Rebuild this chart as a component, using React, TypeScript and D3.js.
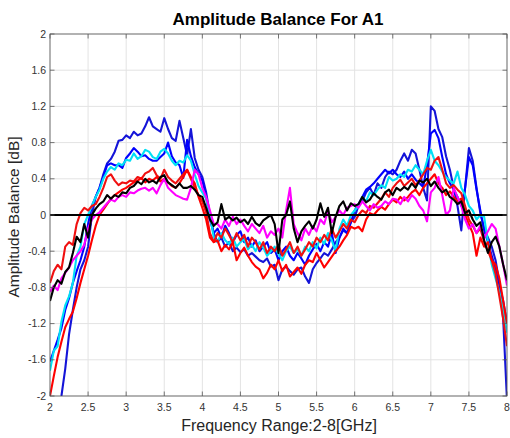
import React from "react";
import * as d3 from "d3";

const TITLE = "Amplitude Balance For A1";
const X_LABEL = "Frequency Range:2-8[GHz]";
const Y_LABEL = "Amplitude Balance [dB]";

const X_TICKS = [2, 2.5, 3, 3.5, 4, 4.5, 5, 5.5, 6, 6.5, 7, 7.5, 8];
const Y_TICKS = [-2, -1.6, -1.2, -0.8, -0.4, 0, 0.4, 0.8, 1.2, 1.6, 2];
const Y_TICK_LABELS = ["-2", "-1.6", "-1.2", "-0.8", "-0.4", "0", "0.4", "0.8", "1.2", "1.6", "2"];

// frequency samples (GHz), 2.0 .. 8.0 every 0.05
const FREQ_START = 2;
const FREQ_STEP = 0.05;

const blueA = [
  -2.8, -2.5, -2.2, -2.0, -1.7, -1.32, -1.05, -0.8, -0.6, -0.5,
  -0.35, 0.0, 0.2, 0.3, 0.45, 0.57, 0.62, 0.7, 0.82, 0.83,
  0.88, 0.85, 0.92, 0.88, 0.9, 0.98, 1.08, 0.98, 0.95, 0.92,
  1.07, 0.95, 0.85, 0.82, 1.04, 0.85, 0.66, 0.95, 0.63, 0.5,
  0.42, 0.25, 0.0, -0.2, -0.3, -0.25, -0.35, -0.3, -0.4, -0.36,
  -0.41, -0.38, -0.45, -0.42, -0.46, -0.5, -0.52, -0.48, -0.57, -0.55,
  -0.72, -0.6, -0.57, -0.62, -0.66, -0.6, -0.58, -0.68, -0.75, -0.6,
  -0.53, -0.48, -0.42, -0.45, -0.38, -0.3, -0.25, -0.17, -0.2, -0.08,
  -0.02, 0.1, 0.15, 0.25, 0.3, 0.22, 0.35, 0.3, 0.42, 0.48,
  0.45, 0.5, 0.6, 0.68, 0.6, 0.72, 0.68, 0.5, 0.3, 0.16,
  1.2, 1.15, 0.95, 0.86, 0.65, 0.5, 0.3, 0.1, -0.17, 0.3,
  0.74, 0.6, 0.3, 0.02, -0.15, -0.25, -0.35, -0.5, -0.75, -1.15,
  -2.05,
];

const blueB = [
  -1.62, -1.5, -1.38, -1.25, -1.05, -0.92, -0.75, -0.62, -0.5, -0.35,
  -0.1, 0.1, 0.2, 0.3, 0.42, 0.55, 0.57, 0.55, 0.55, 0.52,
  0.63, 0.68, 0.74, 0.7, 0.65, 0.66, 0.62, 0.6, 0.6, 0.64,
  0.68, 0.8, 0.65, 0.58, 0.55, 0.41, 0.83, 0.65, 0.53, 0.45,
  0.38, 0.2, -0.05, -0.2, -0.15, -0.25, -0.12, -0.2, -0.3, -0.22,
  -0.18, -0.3, -0.25, -0.35, -0.28, -0.4, -0.35, -0.3, -0.42, -0.38,
  -0.5, -0.4, -0.35, -0.45, -0.5, -0.42, -0.48, -0.55, -0.45, -0.38,
  -0.32, -0.4, -0.3, -0.35, -0.2, -0.42, -0.25, -0.15, -0.2, -0.08,
  0.05, 0.12, 0.2, 0.28, 0.31, 0.35, 0.4, 0.45, 0.5, 0.46,
  0.5, 0.45, 0.42, 0.48, 0.4, 0.45, 0.39, 0.35, 0.31, 0.55,
  0.9, 0.94, 0.85, 0.64, 0.45, 0.35, 0.28, 0.2, 0.1, 0.3,
  0.64, 0.55, 0.28, 0.05, -0.17, -0.3, -0.45, -0.6, -0.78, -0.95,
  -1.2,
];

const cyan = [
  -1.72, -1.5, -1.45, -1.18, -1.0, -0.9, -0.75, -0.45, -0.35, -0.1,
  0.0, 0.1, 0.2, 0.28, 0.4, 0.48, 0.53, 0.5, 0.57, 0.55,
  0.61, 0.6, 0.68, 0.62, 0.65, 0.72, 0.7, 0.64, 0.62, 0.7,
  0.73, 0.68, 0.6, 0.55, 0.6, 0.58, 0.66, 0.6, 0.45, 0.32,
  0.25, 0.18, 0.0, -0.25, -0.3, -0.2, -0.28, -0.32, -0.25, -0.35,
  -0.3, -0.27, -0.38, -0.33, -0.4, -0.3, -0.36, -0.45, -0.4, -0.35,
  -0.43, -0.5, -0.4, -0.35, -0.42, -0.38, -0.45, -0.35, -0.4, -0.3,
  -0.37, -0.25, -0.32, -0.2, -0.28, -0.4, -0.15, -0.05, -0.12, 0.0,
  0.05, 0.1, 0.2, 0.15, 0.25, 0.22, 0.28, 0.33, 0.3, 0.42,
  0.38, 0.4, 0.45, 0.42, 0.5, 0.48, 0.55, 0.5, 0.45, 0.6,
  0.72, 0.6, 0.55, 0.48, 0.42, 0.38, 0.35, 0.48, 0.3, 0.22,
  0.1, 0.05, -0.05, 0.0, -0.02, -0.3, -0.55, -0.7, -0.85, -1.05,
  -1.3,
];

const redA = [
  -0.75, -0.62, -0.55, -0.6, -0.35, -0.3, -0.33, -0.1, 0.02, 0.08,
  0.05, 0.1, 0.12, 0.2, 0.3, 0.42, 0.45, 0.38, 0.33, 0.36,
  0.35, 0.38, 0.37, 0.42, 0.4, 0.46, 0.48, 0.52, 0.44, 0.4,
  0.5, 0.42, 0.38, 0.35, 0.4, 0.45, 0.5, 0.4, 0.3, 0.22,
  0.15, 0.03, -0.2, -0.3, -0.2, -0.25, -0.15, -0.22, -0.3, -0.2,
  -0.28, -0.22, -0.35, -0.25, -0.3, -0.38, -0.3, -0.42, -0.35, -0.4,
  -0.33, -0.45, -0.38, -0.3, -0.42, -0.35, -0.45, -0.38, -0.3, -0.35,
  -0.25, -0.3, -0.22, -0.28, -0.15, -0.25, -0.18, -0.1, -0.15, -0.05,
  -0.08, 0.0, 0.05, 0.02, 0.1, 0.08, 0.13, 0.18, 0.25, 0.2,
  0.3, 0.35, 0.39, 0.32, 0.36, 0.4, 0.33, 0.38, 0.45, 0.52,
  0.5, 0.6, 0.64, 0.5, 0.35, 0.3, 0.33, 0.28, 0.24, 0.1,
  -0.05, -0.12, -0.2, -0.15, -0.3, -0.4, -0.5, -0.65, -0.9, -1.15,
  -1.45,
];

const redB = [
  -2.0, -1.78, -1.57, -1.4, -1.24, -1.15, -1.07, -0.92, -0.75, -0.6,
  -0.45, -0.28, -0.12, 0.0, 0.06, 0.12, 0.18, 0.22, 0.25, 0.28,
  0.3, 0.33, 0.36, 0.38, 0.41, 0.36, 0.4, 0.38, 0.42, 0.37,
  0.4, 0.36, 0.32, 0.3, 0.35, 0.42, 0.5, 0.42, 0.35, 0.2,
  0.08, -0.05, -0.25, -0.3, -0.28, -0.4, -0.33, -0.38, -0.3, -0.5,
  -0.42, -0.36, -0.45, -0.52, -0.57, -0.6, -0.7, -0.64, -0.55, -0.6,
  -0.5, -0.62, -0.55, -0.68, -0.63, -0.58, -0.65, -0.55, -0.5, -0.52,
  -0.42, -0.5, -0.58, -0.52, -0.46, -0.4, -0.35, -0.28, -0.22, -0.13,
  -0.15, -0.13, -0.18, -0.05, 0.02, 0.0, 0.05, 0.09, 0.06, 0.12,
  0.17, 0.14, 0.2, 0.16, 0.2, 0.25, 0.28, 0.22, 0.3, 0.35,
  0.4, 0.45, 0.35, 0.3, 0.22, 0.26, 0.2, 0.15, 0.18, 0.0,
  -0.1, -0.2, -0.45, -0.25, -0.35, -0.3, -0.5, -0.55, -0.7, -0.95,
  -1.2,
];

const magenta = [
  -0.85, -0.78, -0.83, -0.7, -0.64, -0.58, -0.5, -0.45, -0.4, -0.33,
  -0.15, -0.05, 0.0, 0.03, 0.08, 0.13, 0.17, 0.15, 0.2, 0.22,
  0.2, 0.25, 0.24, 0.27, 0.29, 0.3, 0.27, 0.3, 0.24, 0.33,
  0.4, 0.3, 0.26, 0.22, 0.2, 0.18, 0.17, 0.3, 0.5, 0.45,
  0.3, 0.2, 0.05, -0.1, -0.1, -0.15, -0.05, -0.12, -0.02, -0.1,
  -0.05, -0.12, -0.18, -0.1, -0.15, -0.2, -0.12, -0.25, -0.18, -0.22,
  -0.15, -0.25, 0.05, 0.3, -0.1, -0.2, -0.28, -0.15, -0.22, -0.12,
  -0.18, -0.05, -0.1, 0.05, -0.08, -0.02, 0.05, 0.0, 0.08, 0.1,
  0.12, 0.08, 0.15, 0.1, 0.05, 0.12, 0.08, 0.1, 0.15, 0.12,
  0.18, 0.17, 0.12, 0.2, 0.15, 0.22, 0.18, 0.1, 0.05, -0.07,
  0.25, 0.3, 0.42, 0.22, 0.0, 0.05, 0.3, 0.2, 0.1, -0.05,
  -0.15, -0.1, -0.2, -0.12, -0.25, -0.18, -0.1, -0.15, -0.35, -0.55,
  -0.78,
];

const black = [
  -0.95, -0.8, -0.72, -0.76, -0.63, -0.58, -0.42, -0.24, -0.3, -0.1,
  -0.25, 0.0, 0.07, 0.12, 0.15, 0.22, 0.18, 0.22, 0.2, 0.25,
  0.24, 0.3, 0.32, 0.37, 0.34, 0.4, 0.36, 0.38, 0.35, 0.42,
  0.44, 0.36, 0.33, 0.3, 0.35, 0.3, 0.3, 0.32, 0.28, 0.22,
  0.2, 0.08, -0.05, -0.12, -0.08, 0.12, -0.05, -0.02, -0.06, -0.03,
  -0.08, -0.05, -0.1, -0.02, -0.09, -0.12, -0.06, -0.03, 0.0, -0.1,
  -0.42, -0.05, 0.0, 0.15, -0.15, -0.3, -0.18, -0.12, -0.07, -0.15,
  -0.05, 0.13, -0.02, 0.08, -0.2, -0.02, 0.1, 0.15, 0.05, 0.13,
  0.1, 0.12, 0.2, 0.14, 0.17, 0.24, 0.2, 0.17, 0.25, 0.28,
  0.22, 0.3, 0.27, 0.31, 0.28, 0.35, 0.3, 0.38, 0.36, 0.4,
  0.32, 0.37, 0.3, 0.25, 0.28, 0.2, 0.17, 0.12, 0.15, 0.02,
  0.05, -0.05, -0.12, -0.08, -0.28, -0.42, -0.3, -0.24, -0.35, -0.55,
  -0.72,
];

const SERIES = [
  { name: "blueA", values: blueA, color: "#1414d8" },
  { name: "blueB", values: blueB, color: "#0000ff" },
  { name: "cyan", values: cyan, color: "#00e0f5" },
  { name: "redA", values: redA, color: "#f01010" },
  { name: "redB", values: redB, color: "#ff0000" },
  { name: "magenta", values: magenta, color: "#ff00ff" },
  { name: "black", values: black, color: "#000000" },
];

const W = 510;
const H = 438;
const M = { left: 50, right: 3, top: 34, bottom: 42 };
const FONT = "'Liberation Sans', Arial, Helvetica, sans-serif";

export default function App() {
  const x = d3.scaleLinear().domain([2, 8]).range([M.left, W - M.right]);
  const y = d3.scaleLinear().domain([-2, 2]).range([H - M.bottom, M.top]);
  const x0 = M.left, x1 = W - M.right, y0 = H - M.bottom, y1 = M.top;

  const line = d3
    .line<number>()
    .x((_, i) => x(FREQ_START + i * FREQ_STEP))
    .y((v) => y(v));

  return (
    <svg
      width={W}
      height={H}
      style={{ position: "absolute", left: 0, top: 0, background: "#fff" }}
      fontFamily={FONT}
    >
      <defs>
        <clipPath id="plot">
          <rect x={x0} y={y1} width={x1 - x0} height={y0 - y1} />
        </clipPath>
      </defs>
      <rect x={0} y={0} width={W} height={H} fill="#fff" />
      {/* grid */}
      <g stroke="#e3e3e3" strokeWidth={1}>
        {X_TICKS.map((t) => (
          <line key={"gx" + t} x1={x(t)} x2={x(t)} y1={y1} y2={y0} />
        ))}
        {Y_TICKS.map((t) => (
          <line key={"gy" + t} x1={x0} x2={x1} y1={y(t)} y2={y(t)} />
        ))}
      </g>
      {/* series */}
      <g clipPath="url(#plot)" fill="none" strokeWidth={2.1} strokeLinejoin="round">
        {SERIES.map((s) => (
          <path key={s.name} d={line(s.values) || ""} stroke={s.color} />
        ))}
        <line x1={x(2)} x2={x(8)} y1={y(0)} y2={y(0)} stroke="#000" strokeWidth={2} />
      </g>
      {/* box and ticks */}
      <g stroke="#555" strokeWidth={0.8} fill="none">
        <rect x={x0} y={y1} width={x1 - x0} height={y0 - y1} />
        {X_TICKS.map((t) => (
          <g key={"tx" + t}>
            <line x1={x(t)} x2={x(t)} y1={y0} y2={y0 - 4.5} />
            <line x1={x(t)} x2={x(t)} y1={y1} y2={y1 + 4.5} />
          </g>
        ))}
        {Y_TICKS.map((t) => (
          <g key={"ty" + t}>
            <line x1={x0} x2={x0 + 4.5} y1={y(t)} y2={y(t)} />
            <line x1={x1} x2={x1 - 4.5} y1={y(t)} y2={y(t)} />
          </g>
        ))}
      </g>
      {/* tick labels */}
      <g fill="#333" fontSize={10.5}>
        {X_TICKS.map((t) => (
          <text key={"lx" + t} x={x(t)} y={y0 + 15} textAnchor="middle">
            {String(t)}
          </text>
        ))}
        {Y_TICKS.map((t, i) => (
          <text key={"ly" + t} x={x0 - 4} y={y(t) + 3.5} textAnchor="end">
            {Y_TICK_LABELS[i]}
          </text>
        ))}
      </g>
      <text x={278} y={25} textAnchor="middle" fontSize={17} fontWeight="bold" fill="#000">
        {TITLE}
      </text>
      <text x={279} y={431} textAnchor="middle" fontSize={16} fill="#262626">
        {X_LABEL}
      </text>
      <text
        transform={`translate(19, 217) rotate(-90)`}
        textAnchor="middle"
        fontSize={15.5}
        fill="#262626"
      >
        {Y_LABEL}
      </text>
    </svg>
  );
}
